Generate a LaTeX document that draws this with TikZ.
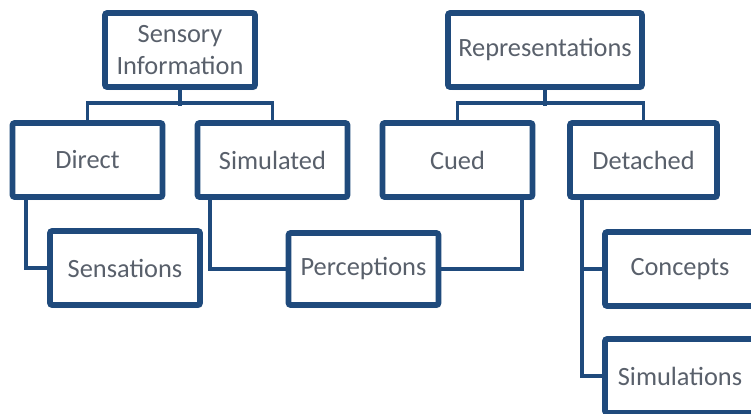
\documentclass[tikz,border=0pt]{standalone}
\usepackage{fontspec}
\setmainfont{Carlito}
\usetikzlibrary{positioning,shadows}
\definecolor{Navy}{HTML}{1F4A7C}
\definecolor{Label}{HTML}{59606B}

\begin{document}
\begin{tikzpicture}[x=0.03cm,y=-0.03cm,
    box/.style={draw=Navy,line width=5pt,fill=white,rounded corners=2pt,
      minimum width=4.5cm,minimum height=2.22cm,text=Label,align=center,
      font=\fontsize{22.5}{27}\selectfont,
      drop shadow={shadow xshift=0.6mm,shadow yshift=-0.9mm,opacity=0.18}},
    link/.style={draw=Navy,line width=3.3pt}]
  \useasboundingbox (0,0) rectangle (751,413);
  \clip (0,0) rectangle (751,413);
  \fill[white] (0,0) rectangle (751,413);

  % left tree
  \node[box] (info) at (180,50) {Sensory\\Information};
  \node[box] (direct) at (87.5,160) {Direct};
  \node[box] (simul) at (272.5,160) {Simulated};
  \node[box] (sens) at (125,268) {Sensations};
  \node[box,minimum height=2.16cm] (perc) at (363.5,269) {Perceptions};

  % right tree
  \node[box,minimum width=5.82cm] (repr) at (545,50) {Representations};
  \node[box] (cued) at (457.5,160) {Cued};
  \node[box,minimum width=4.41cm] (detach) at (643.5,160) {Detached};
  \node[box] (concept) at (680,269) {Concepts};
  \node[box] (simlns) at (680,376) {Simulations};

  % connectors
  \draw[link] (info.south) -- ++(0,16);
  \draw[link] (direct.north) -- ++(0,-17) -| (simul.north);
  \draw[link] (repr.south) -- ++(0,16);
  \draw[link] (cued.north) -- ++(0,-17) -| (detach.north);
  \draw[link] ([xshift=0.48cm]direct.south west) |- (sens.west);
  \draw[link] ([xshift=0.45cm]simul.south west) |- (perc.west);
  \draw[link] ([xshift=-0.4cm]cued.south east) |- (perc.east);
  \draw[link] ([xshift=0.45cm]detach.south west) |- (concept.west);
  \draw[link] ([xshift=0.45cm]detach.south west) |- (simlns.west);
\end{tikzpicture}
\end{document}
